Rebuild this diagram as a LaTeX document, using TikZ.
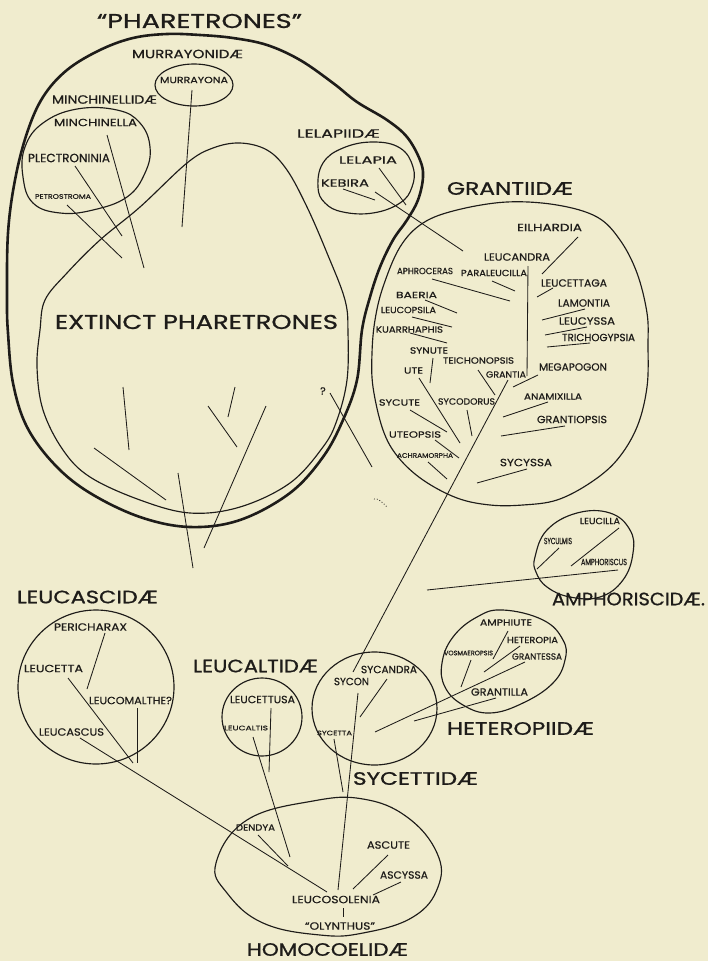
\documentclass[tikz,border=0pt]{standalone}
\usepackage{fontspec}
\usepackage{graphicx}
\newfontfamily\lf{Poppins}[FakeBold=0.6]
\newfontfamily\lfb{Poppins}[FakeBold=0.85]
\definecolor{paper}{RGB}{240,236,206}
\definecolor{ink}{RGB}{30,28,25}
\newcommand{\lb}[2]{\resizebox{#1pt}{\height}{#2}}
\begin{document}
\begin{tikzpicture}[x=1pt,y=-1pt,
  every node/.style={inner sep=0pt,text=ink},
  ttl/.style={font=\lfb\fontsize{20}{20}\selectfont},
  fam/.style={font=\lfb\fontsize{18}{18}\selectfont},
  med/.style={font=\lf\fontsize{12}{12}\selectfont},
  gen/.style={font=\lf\fontsize{10.5}{11}\selectfont},
  sm/.style={font=\lf\fontsize{9}{10}\selectfont},
  tiny/.style={font=\lf\fontsize{6.5}{7}\selectfont},
  ln/.style={draw=ink,line width=0.85pt},
  ring/.style={draw=ink,line width=1.15pt},
  heavy/.style={draw=ink,line width=2.6pt}]
\fill[paper] (0,0) rectangle (708,961);
\useasboundingbox (0,0) rectangle (708,961);

% ---- big outlines
\draw[heavy] plot[smooth cycle,tension=0.6] coordinates {(7,300) (8,233) (15,180) (27,133) (43,97) (67,70) (100,50) (133,38) (167,34) (200,35) (233,38) (267,45) (300,60) (333,83) (357,102) (387,120) (407,137) (420,160) (423,177) (418,200) (407,220) (393,240) (380,267) (370,297) (362,330) (357,380) (343,420) (323,457) (290,493) (240,520) (190,527) (140,517) (90,493) (55,465) (27,427) (13,383) (8,333)};
\draw[ring] plot[smooth cycle,tension=0.6] coordinates {(45,300) (67,273) (100,240) (140,207) (187,163) (213,148) (240,143) (267,150) (287,170) (307,207) (327,253) (345,300) (348,333) (347,380) (337,420) (323,447) (290,483) (240,507) (190,513) (140,500) (90,477) (63,450) (43,410) (37,367) (40,330)};
\draw[ring] plot[smooth cycle,tension=0.6] coordinates {(507,202) (557,205) (597,217) (620,240) (637,273) (647,313) (648,345) (647,387) (637,427) (617,460) (590,483) (557,500) (523,505) (490,505) (457,498) (423,480) (398,457) (383,430) (373,387) (372,353) (375,320) (383,287) (400,247) (423,223) (457,210)};
\draw[ring] plot[smooth cycle,tension=0.7] coordinates {(25,147) (43,123) (77,109) (117,110) (140,123) (150,147) (145,173) (127,197) (93,210) (60,213) (33,203) (23,177)};
\draw[ring] plot[smooth cycle,tension=0.7] coordinates {(318,187) (323,163) (343,148) (373,142) (400,148) (413,167) (412,187) (400,203) (373,213) (343,212) (325,203)};
\draw[ring] (194,85) ellipse [x radius=39pt,y radius=21pt];
\draw[ring] (96,687) ellipse [x radius=78pt,y radius=77pt];
\draw[ring] (262,717) ellipse [x radius=40pt,y radius=39pt];
\draw[ring] (374.5,708.5) ellipse [x radius=62.5pt,y radius=56.5pt];
\draw[ring] plot[smooth cycle,tension=0.7] coordinates {(503,610) (543,620) (563,640) (565,660) (553,683) (523,703) (490,713) (463,705) (445,687) (442,663) (453,637) (477,617)};
\draw[ring] plot[smooth cycle,tension=0.7] coordinates {(535,557) (547,530) (577,513) (610,513) (630,530) (633,553) (623,580) (600,597) (570,597) (547,587) (536,572)};
\draw[ring] plot[smooth cycle,tension=0.7] coordinates {(216,863) (247,820) (313,801) (363,799) (407,817) (437,853) (438,887) (413,917) (363,933) (320,935) (263,923) (227,893)};

% ---- labels
\node[ttl] (title) at (199.5,21) {\lb{205}{“PHARETRONES”}};
\node[ttl] (extinct) at (196.5,322) {\lb{283}{EXTINCT PHARETRONES}};
\node[med] (murrayonidae) at (187.5,54) {\lb{111}{MURRAYONIDÆ}};
\node[med] (minchinellidae) at (104.5,99.5) {\lb{105}{MINCHINELLIDÆ}};
\node[med] (lelapiidae) at (338.5,133.5) {\lb{83}{LELAPIIDÆ}};
\node[fam] (grantiidae) at (510,188.5) {\lb{126}{GRANTIIDÆ}};
\node[fam] (leucascidae) at (87.5,597) {\lb{141}{LEUCASCIDÆ}};
\node[fam] (leucaltidae) at (255.5,666) {\lb{125}{LEUCALTIDÆ}};
\node[fam] (sycettidae) at (415.5,778.5) {\lb{125}{SYCETTIDÆ}};
\node[fam] (heteropiidae) at (520.5,728.5) {\lb{147}{HETEROPIIDÆ}};
\node[fam] (amphoriscidae) at (628.5,599) {\lb{153}{AMPHORISCIDÆ.}};
\node[fam] (homocoelidae) at (327.5,949.5) {\lb{161}{HOMOCOELIDÆ}};

\node[sm] (murrayona) at (194,80) {\lb{68}{MURRAYONA}};
\node[gen] (minchinella) at (95.5,122.5) {\lb{83}{MINCHINELLA}};
\node[med] (plectroninia) at (69,158) {\lb{82}{PLECTRONINIA}};
\node[tiny] (petrostroma) at (63,196.5) {\lb{56}{PETROSTROMA}};
\node[gen] (lelapia) at (368,160) {\lb{58}{LELAPIA}};
\node[gen] (kebira) at (345,183) {\lb{48}{KEBIRA}};

\node[gen] (eilhardia) at (549.5,227.5) {\lb{65}{EILHARDIA}};
\node[gen] (leucandra) at (517,257) {\lb{66}{LEUCANDRA}};
\node[sm] (aphroceras) at (425,271) {\lb{56}{APHROCERAS}};
\node[sm] (paraleucilla) at (494,273) {\lb{66}{PARALEUCILLA}};
\node[gen] (leucettaga) at (574,283) {\lb{66}{LEUCETTAGA}};
\node[gen] (lamontia) at (584,303) {\lb{52}{LAMONTIA}};
\node[gen] (leucyssa) at (587,321) {\lb{56}{LEUCYSSA}};
\node[gen] (trichogypsia) at (598.5,337.5) {\lb{73}{TRICHOGYPSIA}};
\node[sm] (baeria) at (416.5,295) {\lb{41}{BAERIA}};
\node[sm] (leucopsila) at (408.5,310) {\lb{55}{LEUCOPSILA}};
\node[sm] (kuarrhaphis) at (409.5,329.5) {\lb{67}{KUARRHAPHIS}};
\node[sm] (synute) at (429,350.5) {\lb{38}{SYNUTE}};
\node[sm] (ute) at (413.5,370.5) {\lb{19}{UTE}};
\node[sm] (teichonopsis) at (478.5,360.5) {\lb{71}{TEICHONOPSIS}};
\node[sm] (grantia) at (506,374.5) {\lb{40}{GRANTIA}};
\node[gen] (megapogon) at (573,367) {\lb{68}{MEGAPOGON}};
\node[sm] (sycodorus) at (466.5,401.5) {\lb{57}{SYCODORUS}};
\node[sm] (sycute) at (399.5,402.5) {\lb{41}{SYCUTE}};
\node[sm] (anamixilla) at (553,396.5) {\lb{58}{ANAMIXILLA}};
\node[gen] (grantiopsis) at (572,419.5) {\lb{70}{GRANTIOPSIS}};
\node[sm] (uteopsis) at (415,434.5) {\lb{52}{UTEOPSIS}};
\node[tiny] (achramorpha) at (425,455.5) {\lb{56}{ACHRAMORPHA}};
\node[gen] (sycyssa) at (526,462.5) {\lb{52}{SYCYSSA}};
\node[gen] (query) at (323,391) {?};

\node[sm] (leucilla) at (600,521) {\lb{40}{LEUCILLA}};
\node[sm] (syculmis) at (558,541) {\lb{28}{SYCULMIS}};
\node[sm] (amphoriscus) at (604,562) {\lb{46}{AMPHORISCUS}};

\node[sm] (amphiute) at (506,622.5) {\lb{52}{AMPHIUTE}};
\node[sm] (heteropia) at (532.5,640) {\lb{51}{HETEROPIA}};
\node[tiny] (vosmaeropsis) at (468.5,653) {\lb{49}{VOSMAEROPSIS}};
\node[sm] (grantessa) at (537,656.5) {\lb{50}{GRANTESSA}};
\node[gen] (grantilla) at (499.5,692) {\lb{57}{GRANTILLA}};

\node[gen] (sycandra) at (389,669.5) {\lb{56}{SYCANDRA}};
\node[gen] (sycon) at (351.5,681.5) {\lb{35}{SYCON}};
\node[tiny] (sycetta) at (334.5,733) {\lb{35}{SYCETTA}};

\node[gen] (pericharax) at (90.5,627) {\lb{73}{PERICHARAX}};
\node[gen] (leucetta) at (53.5,668.5) {\lb{59}{LEUCETTA}};
\node[gen] (leucomalthe) at (130.5,700.5) {\lb{83}{LEUCOMALTHE?}};
\node[gen] (leucascus) at (71.5,732) {\lb{65}{LEUCASCUS}};
\node[gen] (leucettusa) at (262.5,699.5) {\lb{65}{LEUCETTUSA}};
\node[tiny] (leucaltis) at (246,728) {\lb{44}{LEUCALTIS}};

\node[sm] (dendya) at (255.5,827.5) {\lb{39}{DENDYA}};
\node[gen] (ascute) at (388.5,845) {\lb{43}{ASCUTE}};
\node[gen] (ascyssa) at (404,875) {\lb{48}{ASCYSSA}};
\node[gen] (leucosolenia) at (336,899.5) {\lb{88}{LEUCOSOLENIA}};
\node[gen] (olynthus) at (340,926) {\lb{70}{“OLYNTHUS”}};

% ---- branch lines
\draw[ln] (192,90) -- (182,227);
\draw[ln] (107,135) -- (144,268);
\draw[ln] (75,166) -- (122,236);
\draw[ln] (67,205) -- (122,258);
\draw[ln] (123,387) -- (129,450);
\draw[ln] (94,448) -- (166,500);
\draw[ln] (178,473) -- (193,568);
\draw[ln] (235,387) -- (228,417);
\draw[ln] (208,406) -- (237,447);
\draw[ln] (266,406) -- (204,548);
\draw[ln] (330,393) -- (372,467);
\draw[ln,dotted] (374,499) .. controls (378,498) and (382,502) .. (387,507);

\draw[ln] (379,168) -- (406,205);
\draw[ln] (343,189) -- (375,200);
\draw[ln] (375,192) -- (463,251);

\draw[ln] (528,266) -- (527,376);
\draw[ln] (578,237) -- (542,274);
\draw[ln] (553,288) -- (537,297);
\draw[ln] (585,309) -- (542,320);
\draw[ln] (587,327) -- (545,335);
\draw[ln] (590,343) -- (547,347);
\draw[ln] (432,279) -- (510,301);
\draw[ln] (492,281) -- (515,291);
\draw[ln] (425,300) -- (457,313);
\draw[ln] (412,317) -- (452,327);
\draw[ln] (410,333) -- (447,343);
\draw[ln] (433,358) -- (430,383);
\draw[ln] (419,378) -- (460,443);
\draw[ln] (478,370) -- (495,395);
\draw[ln] (538,375) -- (513,387);
\draw[ln] (467,410) -- (472,436);
\draw[ln] (410,410) -- (447,432);
\draw[ln] (435,440) -- (459,458);
\draw[ln] (428,462) -- (447,479);
\draw[ln] (548,402) -- (503,417);
\draw[ln] (565,426) -- (501,436);
\draw[ln] (527,469) -- (477,483);
\draw[ln] (508,380) -- (353,672);

\draw[ln] (619,528) -- (571,566);
\draw[ln] (559,548) -- (537,569);
\draw[ln] (618,570) -- (427,590);

\draw[ln] (508,631) -- (493,659);
\draw[ln] (520,646) -- (484,672);
\draw[ln] (471,660) -- (461,687);
\draw[ln] (525,662) -- (375,732);
\draw[ln] (496,698) -- (414,721);

\draw[ln] (387,679) -- (360,717);
\draw[ln] (358,693) -- (338,890);
\draw[ln] (334,739) -- (343,792);

\draw[ln] (105,633) -- (87,689);
\draw[ln] (68,678) -- (133,763);
\draw[ln] (137,708) -- (137,763);
\draw[ln] (80,738) -- (327,892);

\draw[ln] (271,708) -- (269,772);
\draw[ln] (253,737) -- (290,857);

\draw[ln] (258,835) -- (288,866);
\draw[ln] (388,855) -- (353,889);
\draw[ln] (401,882) -- (373,895);
\draw[ln] (343,908) -- (343,917);
\end{tikzpicture}
\end{document}
